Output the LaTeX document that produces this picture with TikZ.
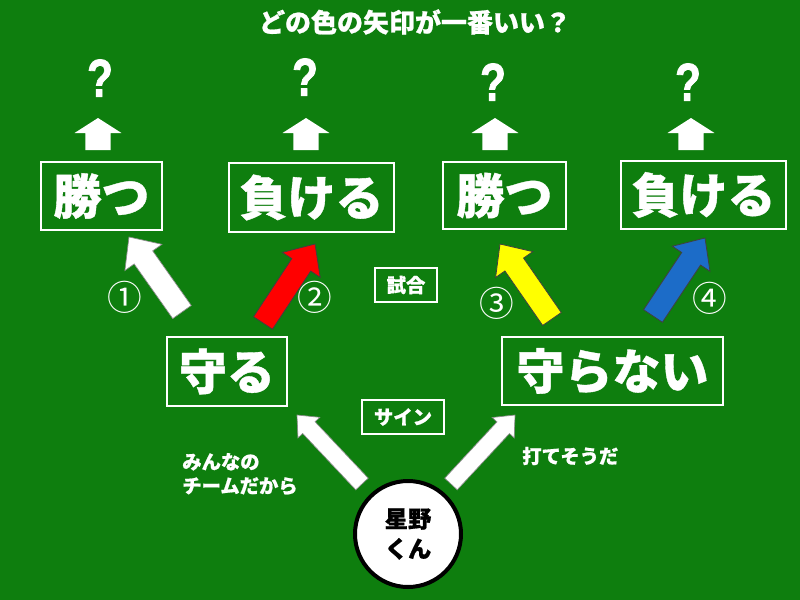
\documentclass[tikz,border=0pt]{standalone}
\usepackage{fontspec}
\setmainfont{Liberation Sans}[BoldFeatures={FakeBold=1.5}]
\newfontfamily\jp{Noto Sans CJK JP}[BoldFeatures={FakeBold=0.8}]
\usetikzlibrary{calc}
\definecolor{bg}{RGB}{14,126,14}
\definecolor{arrowblue}{RGB}{28,108,200}
\definecolor{arrowyellow}{RGB}{255,255,0}
\definecolor{arrowred}{RGB}{255,0,0}
% style, tail, tip, shaft half width, head half width, head length
\newcommand\blkarrow[6]{%
  \coordinate (hb) at ($(#3)!#6!(#2)$);
  \draw[#1] ($(#2)!#4!90:(#3)$) -- ($(hb)!#4!90:(#3)$) -- ($(hb)!#5!90:(#3)$) -- (#3)
    -- ($(hb)!#5!-90:(#3)$) -- ($(hb)!#4!-90:(#3)$) -- ($(#2)!#4!-90:(#3)$) -- cycle;
}
\begin{document}
\begin{tikzpicture}[x=0.75pt,y=-0.75pt,
  box/.style={draw=white, line width=1.9pt, text=white, inner sep=0pt,
    font=\jp\bfseries\fontsize{36}{40}\selectfont},
  smallbox/.style={draw=white, line width=1.3pt, text=white, inner sep=0pt,
    font=\jp\bfseries\fontsize{14.5}{17}\selectfont},
  note/.style={text=white, inner sep=0pt, align=left,
    font=\jp\bfseries\fontsize{14.5}{18}\selectfont},
  titletext/.style={text=white, inner sep=0pt, font=\jp\bfseries\fontsize{19.5}{21}\selectfont},
  qmark/.style={text=white, inner sep=0pt, font=\bfseries\fontsize{40}{40}\selectfont},
  num/.style={text=white, inner sep=0pt, font=\jp\fontsize{26}{26}\selectfont},
  person/.style={circle, draw=black, line width=3pt, fill=white, minimum size=79.5pt,
    inner sep=0pt, align=center, font=\jp\bfseries\fontsize{17.5}{22.5}\selectfont},
  whitearrow/.style={fill=white, draw=black!45, line width=0.5pt},
  colarrow/.style={fill=#1, draw=black!75, line width=0.6pt}
]
\fill[bg] (0,0) rectangle (800,600);

% title
\node[titletext] (title) at (415,22) {どの色の矢印が一番いい？};

% question marks
\node[qmark] (q1) at (100,78) {\scalebox{0.8}[1]{?}};
\node[qmark] (q2) at (305,77) {\scalebox{0.8}[1]{?}};
\node[qmark] (q3) at (493,82) {\scalebox{0.8}[1]{?}};
\node[qmark] (q4) at (688,82) {\scalebox{0.8}[1]{?}};

% top boxes
\node[box, minimum width=90.75pt, minimum height=51pt] (win1) at (101.5,196) {勝つ};
\node[box, minimum width=123.75pt, minimum height=51.75pt] (lose1) at (311.5,197.5) {負ける};
\node[box, minimum width=92.25pt, minimum height=50.25pt] (win2) at (504.5,195.5) {勝つ};
\node[box, minimum width=123.75pt, minimum height=51pt] (lose2) at (703.5,195) {負ける};

% middle boxes
\node[box, minimum width=90pt, minimum height=51.75pt] (def) at (227,371.5) {守る};
\node[box, minimum width=165.75pt, minimum height=51pt] (nodef) at (612.5,371) {守らない};

% small boxes
\node[smallbox, minimum width=46.5pt, minimum height=25.5pt] (game) at (406,285) {試合};
\node[smallbox, minimum width=61.5pt, minimum height=25.5pt] (sign) at (403,417) {サイン};

% small up arrows (box -> question)
\coordinate (u1s) at (98,150);  \coordinate (u1e) at (98,118);
\coordinate (u2s) at (306,150); \coordinate (u2e) at (306,118);
\coordinate (u3s) at (495,150); \coordinate (u3e) at (495,118);
\coordinate (u4s) at (691,150); \coordinate (u4e) at (691,118);
\blkarrow{fill=white, draw=none}{u1s}{u1e}{9.4pt}{17.6pt}{11.25pt}
\blkarrow{fill=white, draw=none}{u2s}{u2e}{9.4pt}{17.6pt}{11.25pt}
\blkarrow{fill=white, draw=none}{u3s}{u3e}{9.4pt}{17.6pt}{11.25pt}
\blkarrow{fill=white, draw=none}{u4s}{u4e}{9.4pt}{17.6pt}{11.25pt}

% diagonal arrows
\coordinate (d1s) at (182,312); \coordinate (d1e) at (129,237);
\coordinate (d2s) at (263,323); \coordinate (d2e) at (315,244);
\coordinate (d3s) at (552,319); \coordinate (d3e) at (500,244);
\coordinate (d4s) at (653,316); \coordinate (d4e) at (705,238);
\blkarrow{whitearrow}{d1s}{d1e}{8.5pt}{17pt}{18.75pt}
\blkarrow{colarrow=arrowred}{d2s}{d2e}{8.5pt}{17pt}{18.75pt}
\blkarrow{colarrow=arrowyellow}{d3s}{d3e}{8.5pt}{17pt}{18.75pt}
\blkarrow{colarrow=arrowblue}{d4s}{d4e}{8.5pt}{17pt}{18.75pt}

% numbers
\node[num] (n1) at (125,297) {①};
\node[num] (n2) at (315,297) {②};
\node[num] (n3) at (497,303) {③};
\node[num] (n4) at (710,298) {④};

% bottom arrows
\coordinate (b1s) at (362,484); \coordinate (b1e) at (297,415);
\coordinate (b2s) at (451,484); \coordinate (b2e) at (515,415);
\blkarrow{whitearrow}{b1s}{b1e}{6.4pt}{11.25pt}{13pt}
\blkarrow{whitearrow}{b2s}{b2e}{6.4pt}{11.25pt}{13pt}

% notes
\node[note, anchor=west] (reason1) at (182,474) {みんなの\\チームだから};
\node[note, anchor=west] (reason2) at (522,456) {打てそうだ};

% person
\node[person] (hoshino) at (408,534) {星野\\くん};
\end{tikzpicture}
\end{document}
